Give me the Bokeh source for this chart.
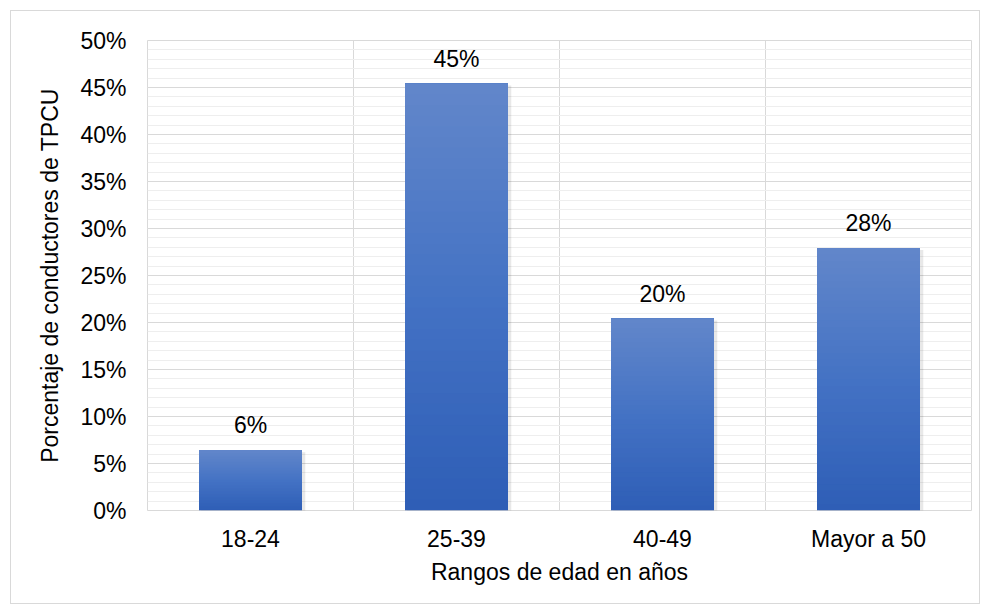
from bokeh.plotting import figure
from bokeh.layouts import column
from bokeh.models import (ColumnDataSource, FixedTicker, NumeralTickFormatter,
                          Range1d, LabelSet)
from bokeh.core.properties import value
from bokeh.embed import file_html
from bokeh.resources import INLINE

categories = ["18-24", "25-39", "40-49", "Mayor a 50"]
values = [0.064, 0.454, 0.204, 0.279]
value_labels = ["6%", "45%", "20%", "28%"]
y_ticks = [0.0, 0.05, 0.10, 0.15, 0.20, 0.25, 0.30, 0.35, 0.40, 0.45, 0.50]

FONT = "Liberation Sans"
FS = "23px"

p = figure(width=968, height=592, output_backend="svg", toolbar_location=None,
           x_range=Range1d(0, len(categories)), y_range=Range1d(0, 0.5),
           min_border_left=136, min_border_right=8, min_border_top=29,
           min_border_bottom=93, background_fill_color="white",
           border_fill_color="white")
p.outline_line_color = "#d9d9d9"
p.outline_line_width = 1

# gradient bars built from overlapping strips
n = 40
top_c = (0x62, 0x87, 0xCA)
mid_c = (0x44, 0x72, 0xC4)
bot_c = (0x2E, 0x5E, 0xB6)

def mix(a, b, t):
    return "#%02x%02x%02x" % tuple(int(round(a[i] + (b[i] - a[i]) * t)) for i in range(3))

xc = [i + 0.5 for i in range(len(categories))]
half_w = 0.25

# soft shadow
p.quad(left=[x - half_w + 0.010 for x in xc], right=[x + half_w + 0.016 for x in xc],
       bottom=[-0.004] * len(xc), top=[v - 0.002 for v in values],
       fill_color="#000000", fill_alpha=0.09, line_color=None)

L, R, B, T, C = [], [], [], [], []
for x, v in zip(xc, values):
    for k in range(n):
        f0 = k / n
        L.append(x - half_w)
        R.append(x + half_w)
        B.append(v * f0)
        T.append(v)
        t = (k + 0.5) / n  # 0 bottom, 1 top
        if t < 0.5:
            C.append(mix(bot_c, mid_c, t / 0.5))
        else:
            C.append(mix(mid_c, top_c, (t - 0.5) / 0.5))
p.quad(left=L, right=R, bottom=B, top=T, fill_color=C, line_color=None)

# value labels
lab_src = ColumnDataSource(dict(x=xc, y=values, t=value_labels))
labels = LabelSet(x="x", y="y", text="t", source=lab_src, text_align="center",
                  text_baseline="bottom", y_offset=12, text_font=value(FONT),
                  text_font_size=value(FS), text_color="#000000")
p.add_layout(labels)

# axes
p.xaxis.ticker = FixedTicker(ticks=xc)
p.xaxis.major_label_overrides = {x: c for x, c in zip(xc, categories)}
p.yaxis.ticker = FixedTicker(ticks=y_ticks,
                             minor_ticks=[i / 100 for i in range(0, 51)])
p.yaxis.formatter = NumeralTickFormatter(format="0%")

for ax in (p.xaxis[0], p.yaxis[0]):
    ax.axis_line_color = None
    ax.major_tick_line_color = None
    ax.minor_tick_line_color = None
    ax.major_label_text_font = FONT
    ax.major_label_text_font_size = FS
    ax.major_label_text_color = "#000000"
    ax.axis_label_text_font = FONT
    ax.axis_label_text_font_size = FS
    ax.axis_label_text_font_style = "normal"
    ax.axis_label_text_color = "#000000"

p.xaxis.axis_label = "Rangos de edad en años"
p.yaxis.axis_label = "Porcentaje de conductores de TPCU"
p.yaxis.major_label_standoff = 15
p.yaxis.axis_label_standoff = 14
p.xaxis.major_label_standoff = 9
p.xaxis.axis_label_standoff = 4

# grids
p.xgrid.ticker = FixedTicker(ticks=list(range(1, len(categories))))
p.xgrid.grid_line_color = "#d9d9d9"
p.ygrid.grid_line_color = "#d9d9d9"
p.ygrid.minor_grid_line_color = "#eeeeee"
p.xgrid.level = "underlay"
p.ygrid.level = "underlay"

layout = column(p, margin=(10, 0, 0, 10),
                styles={"border": "1px solid #d9d9d9", "background": "white"})

open("out.html", "w").write(file_html(layout, INLINE))
